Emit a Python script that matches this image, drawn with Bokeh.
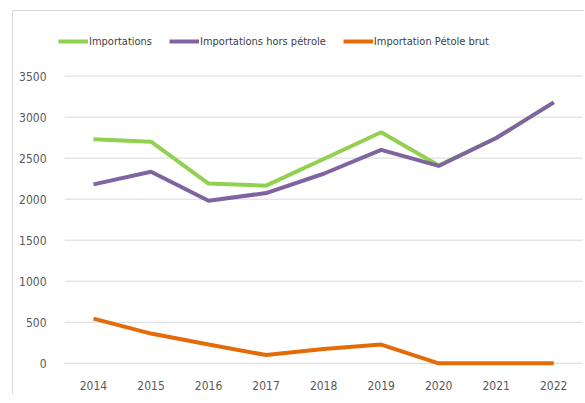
from bokeh.plotting import figure
from bokeh.models import Legend, LegendItem, FixedTicker, Range1d
from bokeh.embed import file_html
from bokeh.resources import INLINE

years = [2014, 2015, 2016, 2017, 2018, 2019, 2020, 2021, 2022]
importations = [2730, 2700, 2190, 2165, 2490, 2815, 2410, 2745, 3180]
hors_petrole = [2180, 2335, 1980, 2075, 2310, 2600, 2405, 2745, 3180]
petrole_brut = [545, 362, 230, 100, 175, 228, 0, 0, 0]
y_ticks = [0, 500, 1000, 1500, 2000, 2500, 3000, 3500]

FONT = "DejaVu Sans Condensed"

x_lo = years[0] - 0.5
x_hi = years[-1] + 0.5

p = figure(width=572, height=384, output_backend="svg", toolbar_location=None,
           x_range=Range1d(2013.357, 2022.552), y_range=Range1d(-100, 4080),
           min_border_left=43, min_border_right=0, min_border_top=17, min_border_bottom=24)
p.styles = {"border-left": "1px solid #d9d9d9", "border-top": "1px solid #d9d9d9",
            "margin-left": "12px", "margin-top": "10px"}
p.outline_line_color = None
p.background_fill_color = "white"
p.border_fill_color = "white"

p.xgrid.grid_line_color = None
p.ygrid.grid_line_color = None
p.yaxis.ticker = FixedTicker(ticks=y_ticks)
p.xaxis.ticker = FixedTicker(ticks=years)

# horizontal gridlines spanning the category area
p.segment(x0=[x_lo] * len(y_ticks), x1=[x_hi] * len(y_ticks), y0=y_ticks, y1=y_ticks,
          line_color="#d9d9d9", line_width=1)

for ax in (p.xaxis, p.yaxis):
    ax.axis_line_color = None
    ax.major_tick_line_color = None
    ax.minor_tick_line_color = None
    ax.major_label_text_font = FONT
    ax.major_label_text_font_size = "12px"
    ax.major_label_text_color = "#595959"
p.yaxis.major_label_standoff = 4
p.xaxis.major_label_standoff = 3

r1 = p.line(years, importations, line_color="#92D050", line_width=4)
r2 = p.line(years, hors_petrole, line_color="#8064A2", line_width=4)
r3 = p.line(years, petrole_brut, line_color="#E36C09", line_width=4)

legend = Legend(items=[LegendItem(label="Importations", renderers=[r1]),
                       LegendItem(label="Importations hors pétrole", renderers=[r2]),
                       LegendItem(label="Importation Pétole brut", renderers=[r3])],
                orientation="horizontal", location=(2, 323),
                glyph_width=30, glyph_height=14, label_standoff=1, spacing=17,
                padding=0, margin=0, border_line_color=None, background_fill_alpha=0,
                label_text_font=FONT, label_text_font_size="11px", label_text_color="#404040")
p.add_layout(legend, "center")

open("out.html", "w").write(file_html(p, INLINE))
